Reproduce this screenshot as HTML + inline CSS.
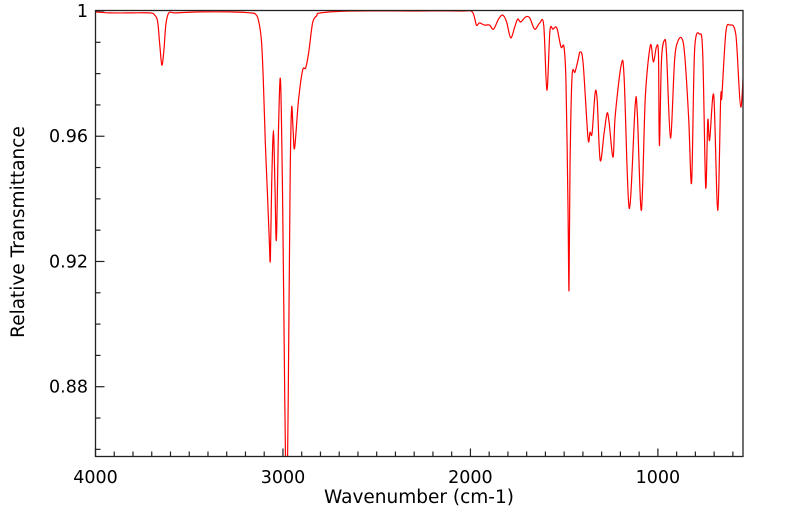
<!DOCTYPE html>
<html><head><meta charset="utf-8"><style>
html,body{margin:0;padding:0;background:#fff;}
svg{display:block;font-family:"DejaVu Sans","Liberation Sans",sans-serif;}
</style></head><body>
<svg id="chart" width="799" height="516" viewBox="0 0 799 516" xmlns="http://www.w3.org/2000/svg">
<g id="ticks"></g>
<g id="plot"></g>
<rect x="95.5" y="10.5" width="647.5" height="446" fill="none" stroke="#222" stroke-width="1.3"/>
<text x="419" y="503" font-size="18.5" text-anchor="middle">Wavenumber (cm-1)</text>
<text x="24" y="232" font-size="18.5" text-anchor="middle" transform="rotate(-90 24 232)">Relative Transmittance</text>
</svg>
<script>
const wavenumbers=[4000,3925,3818,3710,3684,3668,3657,3646,3635,3625,3609,3576,3442,3281,3174,3147,3131,3115,3105,3094,3083,3072,3067,3060,3051,3043,3035,3024,3013,3002,2990,2981,2972,2962,2954,2946,2938,2917,2895,2879,2863,2842,2820,2799,2638,2300,2048,1990,1968,1952,1925,1898,1877,1850,1828,1807,1785,1764,1748,1732,1705,1684,1657,1630,1609,1592,1576,1560,1539,1517,1501,1490,1480,1474,1469,1458,1442,1426,1415,1399,1373,1362,1351,1335,1324,1308,1287,1271,1260,1239,1228,1196,1180,1153,1121,1110,1088,1067,1040,1024,1008,997,992,981,965,954,933,911,895,874,858,836,820,804,777,761,745,734,724,702,681,665,659,638,617,584,558,536,531];
const transmittance=[0.9997,0.9994,0.9994,0.9994,0.9987,0.9965,0.9891,0.9827,0.9875,0.9955,0.9994,0.9994,0.9997,0.9997,0.9994,0.999,0.9971,0.9907,0.978,0.958,0.942,0.925,0.921,0.945,0.9619,0.945,0.927,0.962,0.9779,0.94,0.875,0.84,0.875,0.945,0.969,0.962,0.9562,0.9715,0.9811,0.9818,0.9866,0.9962,0.9985,0.9994,1.0,1.0,1.0,0.9997,0.9955,0.9962,0.9955,0.9955,0.9942,0.9974,0.9987,0.9965,0.9914,0.9949,0.9974,0.9965,0.9981,0.9978,0.9942,0.9962,0.9955,0.9747,0.9936,0.9942,0.9946,0.9885,0.9885,0.977,0.9395,0.9107,0.95,0.9789,0.9805,0.9843,0.9869,0.9834,0.9594,0.9613,0.961,0.9738,0.9715,0.9523,0.961,0.9674,0.9642,0.9533,0.9661,0.9826,0.9789,0.937,0.9699,0.9674,0.9363,0.9725,0.989,0.9837,0.9885,0.9859,0.957,0.9843,0.9907,0.9866,0.9594,0.9843,0.9901,0.9914,0.9866,0.9661,0.9453,0.9875,0.9926,0.9866,0.9437,0.9651,0.9587,0.973,0.9363,0.9722,0.9725,0.993,0.9955,0.9923,0.9693,0.9907,0.9914];
const xTickLabels=[4000,3000,2000,1000];
const yTickLabels=[1,0.96,0.92,0.88];
const NS="http://www.w3.org/2000/svg";
const X0=95.5,X1=743,WN0=4000,WN1=546,Y0=11,YPX=3131,XR=456.5;
function xs(w){return X0+(WN0-w)*(X1-X0)/(WN0-WN1);}
function ys(t){return Y0+(1-t)*YPX;}
const plot=document.getElementById('plot');
const defs=document.createElementNS(NS,'defs');
defs.innerHTML='<clipPath id="clip"><rect x="95.5" y="10.5" width="647.5" height="446"/></clipPath>';
document.getElementById('chart').prepend(defs);
const pts=wavenumbers.map((w,i)=>[xs(w),ys(transmittance[i])]);
let d='M'+pts[0][0].toFixed(1)+','+pts[0][1].toFixed(1);
const k=0.16;
for(let i=0;i<pts.length-1;i++){
  const p0=pts[Math.max(0,i-1)],p1=pts[i],p2=pts[i+1],p3=pts[Math.min(pts.length-1,i+2)];
  const c1x=p1[0]+(p2[0]-p0[0])*k,c1y=p1[1]+(p2[1]-p0[1])*k;
  const c2x=p2[0]-(p3[0]-p1[0])*k,c2y=p2[1]-(p3[1]-p1[1])*k;
  d+='C'+c1x.toFixed(1)+','+c1y.toFixed(1)+' '+c2x.toFixed(1)+','+c2y.toFixed(1)+' '+p2[0].toFixed(1)+','+p2[1].toFixed(1);
}
const p=document.createElementNS(NS,'path');


p.setAttribute('d',d);p.setAttribute('fill','none');p.setAttribute('stroke','#ff0000');
p.setAttribute('stroke-width','1.2');p.setAttribute('stroke-linejoin','round');p.setAttribute('clip-path','url(#clip)');
plot.appendChild(p);
const tk=document.getElementById('ticks');
function line(x1,y1,x2,y2){const l=document.createElementNS(NS,'line');


l.setAttribute('x1',x1);l.setAttribute('y1',y1);l.setAttribute('x2',x2);l.setAttribute('y2',y2);l.setAttribute('stroke','#222');l.setAttribute('stroke-width','1.2');tk.appendChild(l);}
function txt(x,y,s,anchor,name){const t=document.createElementNS(NS,'text');


t.setAttribute('x',x);t.setAttribute('y',y);t.setAttribute('font-size','17.5');t.setAttribute('text-anchor',anchor);t.textContent=s;tk.appendChild(t);}
for(let w=4000;w>=WN1;w-=100){const x=xs(w);const major=w%1000===0;line(x,XR,x,XR-(major?8:5));}
xTickLabels.forEach(v=>txt(xs(v),483,String(v),'middle','x-tick-label'));
for(let j=0;j<=14;j++){const t=1-j*0.01;const y=ys(t);if(y>XR)break;const major=j%4===0;line(X0,y,X0+(major?9:5),y);}
yTickLabels.forEach(v=>txt(88,ys(v)+6,String(v),'end','y-tick-label'));
</script>
</body></html>
